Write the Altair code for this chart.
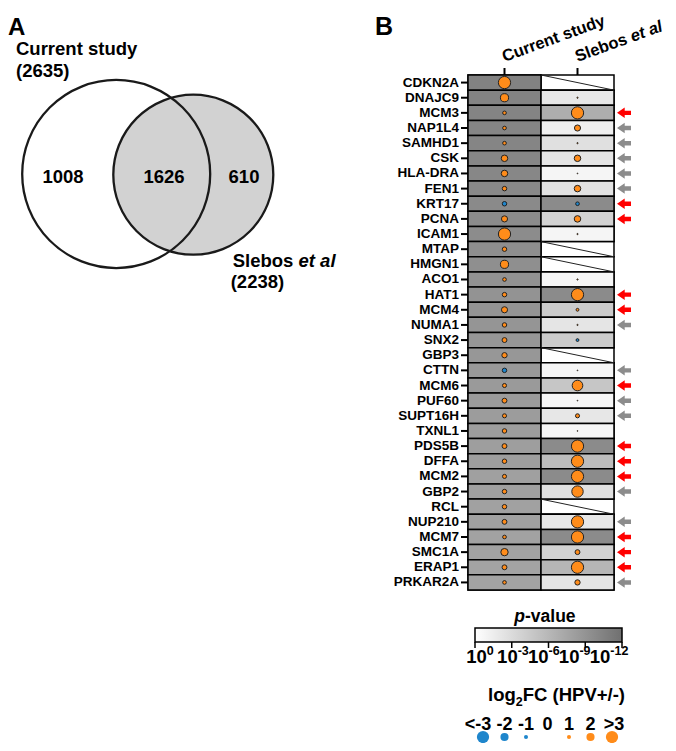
import altair as alt
import pandas as pd

FONT = "Liberation Sans"

# ---------------- data ----------------
venn_sets = ["Current study", "Slebos"]
venn_sets_italic = ["", "et al"]
venn_totals = ["(2635)", "(2238)"]
venn_region_counts = ["1008", "1626", "610"]

studies = ["Current study", "Slebos et al"]
header_main = ["Current study", "Slebos"]
header_italic = ["", "et al"]

genes = ["CDKN2A", "DNAJC9", "MCM3", "NAP1L4", "SAMHD1", "CSK", "HLA-DRA", "FEN1",
         "KRT17", "PCNA", "ICAM1", "MTAP", "HMGN1", "ACO1", "HAT1", "MCM4", "NUMA1",
         "SNX2", "GBP3", "CTTN", "MCM6", "PUF60", "SUPT16H", "TXNL1", "PDS5B", "DFFA",
         "MCM2", "GBP2", "RCL", "NUP210", "MCM7", "SMC1A", "ERAP1", "PRKAR2A"]

# -log10(p)
cur_logp = [10.4, 10.3, 10.2, 10.1, 10.1, 10.0, 9.9, 9.8, 9.7, 9.6, 9.5, 9.3, 9.2, 9.0,
            8.9, 8.8, 8.7, 8.6, 8.5, 8.4, 8.3, 8.2, 8.1, 8.0, 7.9, 7.9, 7.8, 7.8, 7.7,
            7.7, 7.6, 7.6, 7.5, 7.5]
sle_logp = [None, 1.9, 6.6, 1.3, 2.5, 2.1, 0.8, 2.3, 9.6, 3.6, 0.8, None, None, 0.7,
            9.6, 4.2, 2.1, 4.2, None, 0.8, 4.6, 0.7, 1.9, 0.7, 9.6, 5.3, 9.6, 2.5, None,
            1.9, 9.6, 3.6, 5.9, 2.1]

# log2 fold change (HPV+/-)
cur_fc = [3.0, 2.0, 0.9, 0.9, 0.9, 1.6, 1.6, 1.1, -1.1, 1.5, 3.2, 1.1, 2.0, 0.9, 1.1,
          1.5, 1.1, 1.2, 1.3, -1.1, 1.0, 1.2, 1.0, 1.1, 1.2, 1.1, 1.0, 1.1, 1.1, 1.2,
          0.9, 1.8, 1.2, 0.9]
sle_fc = [None, 0.3, 3.0, 1.5, 0.3, 1.6, 0.2, 1.6, -0.9, 1.6, 0.3, None, None, 0.3,
          3.0, 0.7, 0.3, -0.7, None, 0.2, 2.6, 0.2, 1.0, 0.2, 3.0, 3.0, 3.0, 2.8, None,
          3.0, 3.0, 1.2, 3.0, 1.3]

arrow = ["", "", "highlight", "other", "other", "other", "other", "other", "highlight",
         "highlight", "", "", "", "", "highlight", "highlight", "other", "", "",
         "other", "highlight", "other", "other", "", "highlight", "highlight",
         "highlight", "other", "", "other", "highlight", "highlight", "highlight", "other"]

p_ticks = [0, 3, 6, 9, 12]
p_tick_exp = ["0", "-3", "-6", "-9", "-12"]
fc_legend_vals = [-3, -2, -1, 0, 1, 2, 3]
fc_legend_labels = ["<-3", "-2", "-1", "0", "1", "2", ">3"]

# ---------------- layout (pixels) ----------------
W, H = 660, 735
VENN = dict(cx=[108.2, 185.3], cy=[166.0, 166.7], d=[188, 160],
            region_x=[55, 156, 236], region_y=175,
            label_x=[8, 224.7], label_y=[47, 258.7], total_x=[8, 222.7], total_y=[69, 280])
HX = [460, 606]
HY = [67, 582]
ORANGE = "#ff8c1a"
BLUE = "#1f86cc"
BIG = 18.5
HDR = 16.5

txt = dict(font=FONT, fontWeight="bold", color="black")

# ---------------- Venn ----------------
vx = alt.Scale(domain=[0, 340], range=[0, 340])
vy = alt.Scale(domain=[0, 300], range=[0, 300])
vdf = pd.DataFrame({"set": venn_sets, "cx": VENN["cx"], "cy": VENN["cy"],
                    "lx": VENN["label_x"], "ly": VENN["label_y"],
                    "tx": VENN["total_x"], "ty": VENN["total_y"],
                    "it": venn_sets_italic, "tot": venn_totals})

c2 = alt.Chart(vdf.iloc[[1]]).mark_point(
    shape="circle", filled=True, size=VENN["d"][1] ** 2, fill="#d2d2d2",
    stroke="#1a1a1a", strokeWidth=2.3, opacity=1, fillOpacity=1
).encode(x=alt.X("cx:Q", scale=vx, axis=None), y=alt.Y("cy:Q", scale=vy, axis=None))
c1 = alt.Chart(vdf.iloc[[0]]).mark_point(
    shape="circle", filled=False, size=VENN["d"][0] ** 2, color="#1a1a1a",
    strokeWidth=2.3, opacity=1
).encode(x=alt.X("cx:Q", scale=vx, axis=None), y=alt.Y("cy:Q", scale=vy, axis=None))

rdf = pd.DataFrame({"n": venn_region_counts, "x": VENN["region_x"],
                    "y": [VENN["region_y"]] * 3})
regions = alt.Chart(rdf).mark_text(fontSize=BIG, align="center", baseline="alphabetic", **txt).encode(
    x=alt.X("x:Q", scale=vx, axis=None), y=alt.Y("y:Q", scale=vy, axis=None), text="n:N")
set_lab = alt.Chart(vdf).mark_text(fontSize=BIG, align="left", baseline="alphabetic", **txt).encode(
    x=alt.X("lx:Q", scale=vx, axis=None), y=alt.Y("ly:Q", scale=vy, axis=None), text="set:N")
set_it = alt.Chart(vdf).mark_text(fontSize=BIG, align="left", baseline="alphabetic", dx=3.557 * BIG,
                                  fontStyle="italic", **txt).encode(
    x=alt.X("lx:Q", scale=vx, axis=None), y=alt.Y("ly:Q", scale=vy, axis=None), text="it:N")
set_tot = alt.Chart(vdf).mark_text(fontSize=BIG, align="left", baseline="alphabetic", **txt).encode(
    x=alt.X("tx:Q", scale=vx, axis=None), y=alt.Y("ty:Q", scale=vy, axis=None), text="tot:N")
labA = alt.Chart(pd.DataFrame({"t": ["A"]})).mark_text(fontSize=24, align="left", baseline="alphabetic", **txt).encode(
    x=alt.value(0), y=alt.value(27), text="t:N")
labB = alt.Chart(pd.DataFrame({"t": ["B"]})).mark_text(fontSize=25, align="left", baseline="alphabetic", **txt).encode(
    x=alt.value(367), y=alt.value(27), text="t:N")

venn = alt.layer(c2, c1, regions, set_lab, set_it, set_tot, labA, labB)

# ---------------- heatmap ----------------
rows = []
for i, g in enumerate(genes):
    rows.append(dict(gene=g, study=studies[0], logp=cur_logp[i], fc=cur_fc[i]))
    rows.append(dict(gene=g, study=studies[1], logp=sle_logp[i], fc=sle_fc[i]))
heat = pd.DataFrame(rows)

xs = alt.Scale(domain=studies, range=HX, paddingInner=0, paddingOuter=0)
ys = alt.Scale(domain=genes, range=HY, paddingInner=0, paddingOuter=0)
XN = alt.X("study:N", scale=xs, axis=None)
YN = alt.Y("gene:N", scale=ys, axis=None)

base = alt.Chart(heat).mark_rect(fill="white", stroke="black", strokeWidth=1.5).encode(x=XN, y=YN)
shade = alt.Chart(heat).transform_filter("isValid(datum.logp)").mark_rect(
    stroke="black", strokeWidth=1.5).encode(
    x=XN, y=YN,
    fill=alt.Fill("logp:Q", scale=alt.Scale(domain=[0, 12], range=["#ffffff", "#707070"]), legend=None))
diag = alt.Chart(heat).transform_filter("!isValid(datum.logp)").mark_rule(
    color="#222222", strokeWidth=1).encode(
    x=alt.X("study:N", scale=xs, axis=None, bandPosition=0),
    x2=alt.X2("study", bandPosition=1),
    y=alt.Y("gene:N", scale=ys, axis=None, bandPosition=0),
    y2=alt.Y2("gene", bandPosition=1))
size_scale = alt.Scale(type="pow", exponent=2, domain=[0, 3], range=[0, 150], clamp=True)
dir_scale = alt.Scale(domain=["up", "down"], range=[ORANGE, BLUE])
dots = alt.Chart(heat).transform_filter("isValid(datum.fc)").transform_calculate(
    afc="abs(datum.fc)", dir="datum.fc > 0 ? 'up' : 'down'"
).mark_circle(opacity=1, stroke="#222222", strokeWidth=1).encode(
    x=XN, y=YN,
    size=alt.Size("afc:Q", scale=size_scale, legend=None),
    color=alt.Color("dir:N", scale=dir_scale, legend=None))

gdf = pd.DataFrame({"gene": genes, "arrow": arrow})
gene_lab = alt.Chart(gdf).mark_text(fontSize=13.5, align="right", baseline="middle", **txt).encode(
    x=alt.value(HX[0] - 9), y=YN, text="gene:N")
gene_tick = alt.Chart(gdf).mark_rule(color="black", strokeWidth=2).encode(
    x=alt.value(HX[0] - 7), x2=alt.value(HX[0]), y=YN)
col_tick = alt.Chart(pd.DataFrame({"study": studies})).mark_rule(color="black", strokeWidth=2).encode(
    x=XN, y=alt.value(HY[0] - 7), y2=alt.value(HY[0]))

ARROW = "M -1 0 L 0.1 -0.75 L 0.1 -0.32 L 1 -0.32 L 1 0.32 L 0.1 0.32 L 0.1 0.75 Z"
arr = alt.Chart(gdf).transform_filter(
    "datum.arrow != ''").mark_point(shape=ARROW, filled=True, size=196, opacity=1, strokeWidth=0).encode(
    x=alt.value(616), y=YN,
    color=alt.Color("arrow:N", scale=alt.Scale(domain=["highlight", "other"], range=["#ff0000", "#8c8c8c"]),
                    legend=None))

hdf = pd.DataFrame({"study": studies, "main": header_main, "it": header_italic})
hdr = alt.Chart(hdf).mark_text(angle=340, align="left", baseline="alphabetic", fontSize=HDR, **txt).encode(
    x=XN, y=alt.value(54), text="main:N")
hdr_it = alt.Chart(hdf).mark_text(angle=340, align="left", baseline="alphabetic", fontSize=HDR,
                                  dx=3.557 * HDR, fontStyle="italic", **txt).encode(
    x=XN, y=alt.value(54), text="it:N")

heatmap = alt.layer(base, shade, diag, dots, gene_lab, gene_tick, col_tick, arr, hdr, hdr_it
                    ).resolve_scale(color="independent")

# ---------------- p-value legend ----------------
xp = alt.Scale(domain=[0, 12], range=[467, 614])
xl = alt.Scale(domain=[0, 12], range=[468.5, 592])
grad = alt.LinearGradient(gradient="linear",
                          stops=[alt.GradientStop(color="#ffffff", offset=0),
                                 alt.GradientStop(color="#707070", offset=1)],
                          x1=0, x2=1, y1=0, y2=0)
bar = alt.Chart(pd.DataFrame({"v": [p_ticks[0]], "v2": [p_ticks[-1]]})).mark_rect(
    fill=grad, stroke="black", strokeWidth=1.5).encode(
    x=alt.X("v:Q", scale=xp, axis=None), x2="v2:Q", y=alt.value(620), y2=alt.value(634))
pt = pd.DataFrame({"v": p_ticks, "base": ["10"] * len(p_ticks), "exp": p_tick_exp})
ticks = alt.Chart(pt).mark_rule(color="black", strokeWidth=1.5).encode(
    x=alt.X("v:Q", scale=xp, axis=None), y=alt.value(634), y2=alt.value(640))
bar_layer = alt.layer(bar, ticks)
lab_base = alt.Chart(pt).mark_text(fontSize=18.5, align="center", baseline="alphabetic", **txt).encode(
    x=alt.X("v:Q", scale=xl, axis=None), y=alt.value(655), text="base:N")
lab_exp = alt.Chart(pt).mark_text(fontSize=12.5, align="left", baseline="alphabetic", dx=10.3, **txt).encode(
    x=alt.X("v:Q", scale=xl, axis=None), y=alt.value(647), text="exp:N")
lab_layer = alt.layer(lab_base, lab_exp)
p_it = alt.Chart(pd.DataFrame({"t": ["p"]})).mark_text(fontSize=17.5, align="right", baseline="alphabetic",
                                                     fontStyle="italic", **txt).encode(
    x=alt.value(517), y=alt.value(614), text="t:N")
p_rest = alt.Chart(pd.DataFrame({"t": ["-value"]})).mark_text(fontSize=17.5, align="left", baseline="alphabetic",
                                                            **txt).encode(
    x=alt.value(517), y=alt.value(614), text="t:N")
plegend = alt.layer(bar_layer, lab_layer, p_it, p_rest).resolve_scale(x="independent")

# ---------------- fold-change legend ----------------
xf = alt.Scale(domain=[-3, 3], range=[475, 604])
XF = alt.X("v:Q", scale=xf, axis=None)
fdf = pd.DataFrame({"v": fc_legend_vals, "lab": fc_legend_labels})
lab_style = dict(fontSize=18, align="center", baseline="alphabetic", **txt)
f_lab_mid = alt.Chart(fdf).transform_filter("abs(datum.v) < 3").mark_text(**lab_style).encode(
    x=XF, y=alt.value(722), text="lab:N")
f_lab_lo = alt.Chart(fdf).transform_filter("datum.v <= -3").mark_text(dx=-5, **lab_style).encode(
    x=XF, y=alt.value(722), text="lab:N")
f_lab_hi = alt.Chart(fdf).transform_filter("datum.v >= 3").mark_text(dx=2, **lab_style).encode(
    x=XF, y=alt.value(722), text="lab:N")
f_dot = alt.Chart(fdf).transform_filter("datum.v != 0").transform_calculate(
    afc="abs(datum.v)", dir="datum.v > 0 ? 'up' : 'down'").mark_circle(opacity=1).encode(
    x=XF, y=alt.value(729),
    size=alt.Size("afc:Q", scale=size_scale, legend=None),
    color=alt.Color("dir:N", scale=dir_scale, legend=None))
t_log = alt.Chart(pd.DataFrame({"t": ["log"]})).mark_text(fontSize=BIG, align="left", baseline="alphabetic", **txt).encode(
    x=alt.value(480), y=alt.value(693), text="t:N")
t_sub = alt.Chart(pd.DataFrame({"t": ["2"]})).mark_text(fontSize=12.5, align="left", baseline="alphabetic", **txt).encode(
    x=alt.value(480 + 1.5 * BIG), y=alt.value(698), text="t:N")
t_rest = alt.Chart(pd.DataFrame({"t": ["FC (HPV+/-)"]})).mark_text(fontSize=BIG, align="left", baseline="alphabetic", **txt).encode(
    x=alt.value(480 + 1.5 * BIG + 7), y=alt.value(693), text="t:N")
fclegend = alt.layer(f_lab_mid, f_lab_lo, f_lab_hi, f_dot, t_log, t_sub, t_rest)

chart = alt.layer(venn, heatmap, plegend, fclegend).resolve_scale(
    x="independent", y="independent", color="independent", size="independent", fill="independent"
).properties(
    width=W, height=H, padding=0, autosize=alt.AutoSizeParams(type="none")
).configure_view(stroke=None)

chart.save("out.html", embed_options={"renderer": "svg", "actions": False})
